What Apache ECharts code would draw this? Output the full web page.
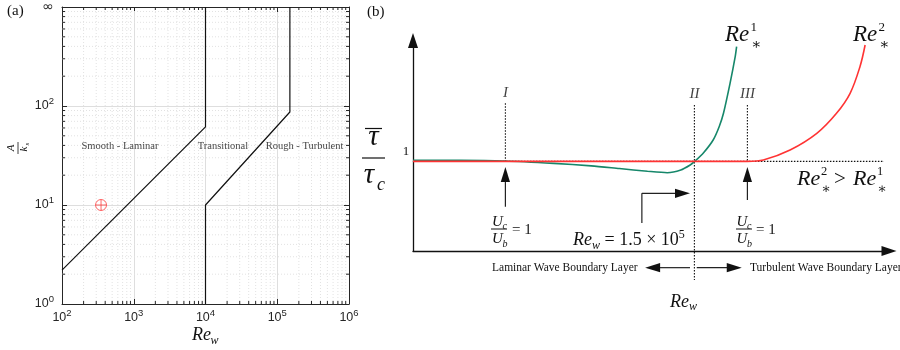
<!DOCTYPE html>
<html>
<head>
<meta charset="utf-8">
<script src="https://cdn.jsdelivr.net/npm/echarts@6/dist/echarts.min.js"></script>
<style>
  html, body { margin: 0; padding: 0; background: #fff; }
  #chart { width: 900px; height: 350px; }
</style>
</head>
<body>
<div id="chart"></div>
<script>
// ---------- Panel (a): flow-regime map, A/ks against Re_w ----------
const RE_MIN = 1e2, RE_MAX = 1e6;
const RATIO_MIN = 1, RATIO_MAX = 1e3;          // top decade is the "infinite" row
const ratioTopLabel = '\u221e';
const smoothBoundary = [[100, 2.2], [1e4, 61.5], [1e4, 1000]];
const roughBoundary = [[1e4, 1], [1e4, 10], [1.5e5, 87], [1.5e5, 1000]];
const casePoint = [[350, 10]];
const regimeNames = ['Smooth - Laminar', 'Transitional', 'Rough - Turbulent'];
const regimeLabelAt = [[643, 38.8], [17500, 38.8], [240000, 38.8]];

// minor tick values 2..9 in each decade
const minorRe = [];
for (let e = 2; e < 6; e++) for (let m = 2; m <= 9; m++) minorRe.push(m * Math.pow(10, e));
const minorRatio = [];
for (let e = 0; e < 3; e++) for (let m = 2; m <= 9; m++) minorRatio.push(m * Math.pow(10, e));

// ---------- Panel (b): schematic of mean bed shear stress ----------
const reStar1 = [[0, 1.012], [10, 1.012], [19.7, 1.005], [30, 0.978], [38, 0.95], [44, 0.92],
  [50, 0.89], [54.2, 0.874], [57.1, 0.904], [59.1, 0.96], [60, 0.997], [62, 1.1],
  [64, 1.239], [65.3, 1.39], [66.2, 1.537], [67.6, 1.871], [68.7, 2.168], [69.0, 2.28]];
const reStar2 = [[0, 1], [71.3, 1], [74.7, 1.016], [80.4, 1.127], [86.1, 1.313], [90.3, 1.537],
  [93.2, 1.76], [95.3, 2.057], [96.4, 2.299]];
const unitLevel = [[-4.5, 1], [102.1, 1]];
const markerNames = ['I', 'II', 'III'];
const markerX = [19.7, 60, 71.3];
const markerTop = [1.65, 1.63, 1.63];
const markerBottom = [1, -0.324, 1];
// [x1, y1, x2, y2, head] segments of the annotation arrows
const arrowSegs = [
  [19.7, 0.494, 19.7, 0.937, 1],
  [71.3, 0.569, 71.3, 0.937, 1],
  [48.8, 0.312, 48.8, 0.644, 0],
  [48.8, 0.644, 59.06, 0.644, 1],
  [59.06, -0.186, 49.5, -0.186, 1],
  [60.5, -0.186, 70.1, -0.186, 1]
];

const SERIF = '"Liberation Serif", "DejaVu Serif", serif';
const SANS = '"Liberation Sans", Arial, sans-serif';
const INK = '#111';
const AXIS = '#262626';

function expLabel(v) {
  const e = Math.round(Math.log10(v));
  return '{b|10}{s|' + e + '}';
}
const expRich = {
  b: { fontFamily: SANS, fontSize: 12.5, color: AXIS, lineHeight: 20 },
  s: { fontFamily: SANS, fontSize: 9.5, color: AXIS, lineHeight: 9, verticalAlign: 'top' },
  inf: { fontFamily: '"DejaVu Sans", sans-serif', fontSize: 14, color: AXIS, lineHeight: 20 }
};

function renderMinorX(params, api) {
  const v = api.value(0);
  const b = api.coord([v, RATIO_MIN]);
  const t = api.coord([v, RATIO_MAX]);
  return { type: 'group', children: [
    { type: 'line', shape: { x1: b[0], y1: b[1], x2: t[0], y2: t[1] }, style: { stroke: '#e2e2e2', lineWidth: 1, lineDash: [1, 2] } },
    { type: 'line', shape: { x1: b[0], y1: b[1], x2: b[0], y2: b[1] - 3 }, style: { stroke: AXIS, lineWidth: 1 } },
    { type: 'line', shape: { x1: t[0], y1: t[1], x2: t[0], y2: t[1] + 3 }, style: { stroke: AXIS, lineWidth: 1 } }
  ] };
}
function renderMinorY(params, api) {
  const v = api.value(1);
  const l = api.coord([RE_MIN, v]);
  const r = api.coord([RE_MAX, v]);
  return { type: 'group', children: [
    { type: 'line', shape: { x1: l[0], y1: l[1], x2: r[0], y2: r[1] }, style: { stroke: '#e2e2e2', lineWidth: 1, lineDash: [1, 2] } },
    { type: 'line', shape: { x1: l[0], y1: l[1], x2: l[0] + 3, y2: l[1] }, style: { stroke: AXIS, lineWidth: 1 } },
    { type: 'line', shape: { x1: r[0], y1: r[1], x2: r[0] - 3, y2: r[1] }, style: { stroke: AXIS, lineWidth: 1 } }
  ] };
}
function renderArrow(params, api) {
  const a = api.coord([api.value(0), api.value(1)]);
  const b = api.coord([api.value(2), api.value(3)]);
  const children = [];
  let end = b;
  if (api.value(4)) {
    const dx = b[0] - a[0], dy = b[1] - a[1];
    const L = Math.hypot(dx, dy), ux = dx / L, uy = dy / L;
    const hl = 15, hw = 4.6;
    const base = [b[0] - ux * hl, b[1] - uy * hl];
    children.push({ type: 'polygon', shape: { points: [b, [base[0] - uy * hw, base[1] + ux * hw], [base[0] + uy * hw, base[1] - ux * hw]] }, style: { fill: INK } });
    end = [base[0] + ux * 2, base[1] + uy * 2];
  }
  children.unshift({ type: 'line', shape: { x1: a[0], y1: a[1], x2: end[0], y2: end[1] }, style: { stroke: '#222', lineWidth: 1.2 } });
  return { type: 'group', children };
}

function txt(x, y, text, size, o) {
  o = o || {};
  const align = o.align || 'left', va = o.va || 'middle';
  return { type: 'text', x, y, silent: true, z: 100,
    style: { text, fill: o.color || INK, fontFamily: o.family || SERIF, fontSize: size,
      fontStyle: o.italic ? 'italic' : 'normal', align, verticalAlign: va,
      textAlign: align, textVerticalAlign: va, rich: o.rich } };
}
function hline(x1, x2, y, w) {
  return { type: 'line', silent: true, z: 100, shape: { x1, y1: y, x2, y2: y }, style: { stroke: INK, lineWidth: w || 1 } };
}
const IT = { italic: true };
const ITC = { italic: true, align: 'center' };

const graphics = [
  txt(7, 11, '(a)', 15),
  txt(367, 12, '(b)', 15),
  { type: 'group', x: 18, y: 148, rotation: Math.PI / 2, z: 100, children: [
    txt(0, -6.5, 'A', 11, ITC), hline(-6, 6, 0, 0.8), txt(-1, 6.5, 'k', 11, ITC), txt(2.5, 9, 's', 7, IT)
  ] },
  txt(192, 335, 'Re', 18, IT), txt(210.5, 341, 'w', 12, IT),
  // tau-bar over tau_c
  hline(365, 382, 128.5, 1.2), txt(373.5, 137, '\u03c4', 29, ITC),
  hline(362, 385, 158, 1.2),
  txt(369, 175, '\u03c4', 29, ITC), txt(377, 185, 'c', 18, IT),
  txt(406, 152, '1', 13, { align: 'center' }),
  // curve labels
  txt(725, 35, 'Re', 23, IT), txt(750.5, 28, '1', 13), txt(751, 45, '\u2217', 15),
  txt(853, 35, 'Re', 23, IT), txt(878.5, 28, '2', 13), txt(879, 45, '\u2217', 15),
  txt(797, 179, 'Re', 22, IT), txt(821, 172, '2', 12.5), txt(821.5, 189, '\u2217', 14),
  txt(840, 179, '>', 21, { align: 'center' }),
  txt(853, 179, 'Re', 22, IT), txt(877, 172, '1', 12.5), txt(877.5, 189, '\u2217', 14),
  // velocity ratio notes
  txt(497.5, 222, 'U', 15, ITC), txt(502.5, 226, 'c', 10, IT), hline(491, 507, 229, 1),
  txt(497.5, 239, 'U', 15, ITC), txt(502.5, 244, 'b', 10, IT), txt(512, 230, '= 1', 15),
  txt(742, 222, 'U', 15, ITC), txt(747, 226, 'c', 10, IT), hline(736, 752, 229, 1),
  txt(742, 239, 'U', 15, ITC), txt(747, 244, 'b', 10, IT), txt(756, 230, '= 1', 15),
  txt(573, 240, '{i|Re}{w|w}{n| = 1.5 \u00d7 10}{p|5}', 18, { rich: {
    i: { fontFamily: SERIF, fontStyle: 'italic', fontSize: 18, lineHeight: 23, fill: INK },
    w: { fontFamily: SERIF, fontStyle: 'italic', fontSize: 12, lineHeight: 12, verticalAlign: 'bottom', fill: INK },
    n: { fontFamily: SERIF, fontSize: 18, lineHeight: 23, fill: INK },
    p: { fontFamily: SERIF, fontSize: 12, lineHeight: 12, verticalAlign: 'top', fill: INK }
  } }),
  txt(492, 268, 'Laminar Wave Boundary Layer', 11.5),
  txt(750, 268, 'Turbulent Wave Boundary Layer', 11.5),
  txt(670, 302, 'Re', 18, IT), txt(689, 307, 'w', 12, IT)
];

const chart = echarts.init(document.getElementById('chart'), null, { renderer: 'canvas' });

const logAxisBase = {
  gridIndex: 0, type: 'log', logBase: 10,
  axisLine: { show: true, onZero: false, lineStyle: { color: AXIS, width: 1 } },
  axisTick: { show: true, inside: true, length: 5, lineStyle: { color: AXIS, width: 1 } }
};
const plainAxis = {
  gridIndex: 1, type: 'value',
  axisTick: { show: false }, axisLabel: { show: false }, splitLine: { show: false }
};

chart.setOption({
  animation: false,
  backgroundColor: '#fff',
  grid: [
    { left: 62, top: 7, width: 287, height: 297, containLabel: false, outerBoundsMode: 'none' },
    { left: 413, top: 44, width: 469, height: 207, containLabel: false, outerBoundsMode: 'none' }
  ],
  xAxis: [
    Object.assign({}, logAxisBase, {
      min: RE_MIN, max: RE_MAX, position: 'bottom',
      axisLabel: { formatter: expLabel, rich: expRich, margin: 4 },
      splitLine: { show: true, lineStyle: { color: '#dedede', width: 1 } }
    }),
    Object.assign({}, logAxisBase, {
      min: RE_MIN, max: RE_MAX, position: 'top',
      axisLabel: { show: false }, splitLine: { show: false }
    }),
    Object.assign({}, plainAxis, {
      min: 0, max: 100, position: 'bottom',
      axisLine: { show: true, onZero: false, symbol: ['none', 'triangle'], symbolSize: [10, 15], symbolOffset: [0, 7],
        lineStyle: { color: INK, width: 1.3 } }
    })
  ],
  yAxis: [
    Object.assign({}, logAxisBase, {
      min: RATIO_MIN, max: RATIO_MAX, position: 'left',
      axisLabel: {
        formatter: v => (Math.round(Math.log10(v)) === 3 ? '{inf|' + ratioTopLabel + '}' : expLabel(v)),
        rich: expRich, margin: 8
      },
      splitLine: { show: true, lineStyle: { color: '#dedede', width: 1 } }
    }),
    Object.assign({}, logAxisBase, {
      min: RATIO_MIN, max: RATIO_MAX, position: 'right',
      axisLabel: { show: false }, splitLine: { show: false }
    }),
    Object.assign({}, plainAxis, {
      min: 0, max: 2.31, position: 'left',
      axisLine: { show: true, onZero: false, symbol: ['none', 'triangle'], symbolSize: [10, 15], symbolOffset: [0, 3.5],
        lineStyle: { color: INK, width: 1.3 } }
    })
  ],
  series: [
    // panel (a)
    { type: 'custom', xAxisIndex: 0, yAxisIndex: 0, renderItem: renderMinorX, silent: true,
      data: minorRe.map(v => [v, RATIO_MIN]), encode: { x: 0, y: 1 } },
    { type: 'custom', xAxisIndex: 0, yAxisIndex: 0, renderItem: renderMinorY, silent: true,
      data: minorRatio.map(v => [RE_MIN, v]), encode: { x: 0, y: 1 } },
    { type: 'line', xAxisIndex: 0, yAxisIndex: 0, data: smoothBoundary, showSymbol: false, symbol: 'none',
      lineStyle: { color: INK, width: 1.2 } },
    { type: 'line', xAxisIndex: 0, yAxisIndex: 0, data: roughBoundary, showSymbol: false, symbol: 'none',
      lineStyle: { color: INK, width: 1.2 } },
    { type: 'scatter', xAxisIndex: 0, yAxisIndex: 0, data: casePoint,
      symbol: 'path://M10,0A10,10,0,1,1,-10,0A10,10,0,1,1,10,0ZM-10,0L10,0M0,-10L0,10',
      symbolSize: 11, itemStyle: { color: 'rgba(0,0,0,0)', borderColor: '#f44', borderWidth: 1 } },
    { type: 'scatter', xAxisIndex: 0, yAxisIndex: 0, symbolSize: 0, silent: true,
      data: regimeNames.map((n, i) => ({ name: n, value: regimeLabelAt[i] })),
      label: { show: true, position: 'inside', formatter: '{b}', fontFamily: SERIF, fontSize: 10.5, color: INK } },
    // panel (b)
    { type: 'line', xAxisIndex: 2, yAxisIndex: 2, data: unitLevel, showSymbol: false, symbol: 'none', clip: false,
      lineStyle: { color: INK, width: 1.1, type: [1.5, 1.5] } },
    ...markerNames.map((n, i) => ({
      type: 'line', xAxisIndex: 2, yAxisIndex: 2, showSymbol: false, symbol: 'none', clip: false,
      data: [[markerX[i], markerTop[i]], [markerX[i], markerBottom[i]]],
      lineStyle: { color: INK, width: 1.1, type: [1.5, 1.5] }
    })),
    { type: 'scatter', xAxisIndex: 2, yAxisIndex: 2, symbolSize: 0, silent: true,
      data: markerNames.map((n, i) => ({ name: n, value: [markerX[i], markerTop[i]] })),
      label: { show: true, position: 'top', distance: 3, formatter: '{b}', fontFamily: SERIF,
        fontStyle: 'italic', fontSize: 15, color: INK } },
    { type: 'line', xAxisIndex: 2, yAxisIndex: 2, data: reStar1, showSymbol: false, symbol: 'none', smooth: 0.25,
      clip: false, lineStyle: { color: '#16876a', width: 1.6 } },
    { type: 'line', xAxisIndex: 2, yAxisIndex: 2, data: reStar2, showSymbol: false, symbol: 'none', smooth: 0.35,
      clip: false, lineStyle: { color: '#f33', width: 1.6 } },
    { type: 'custom', xAxisIndex: 2, yAxisIndex: 2, renderItem: renderArrow, silent: true,
      data: arrowSegs, encode: { x: [0, 2], y: [1, 3] } }
  ],
  graphic: graphics
});
</script>
</body>
</html>
